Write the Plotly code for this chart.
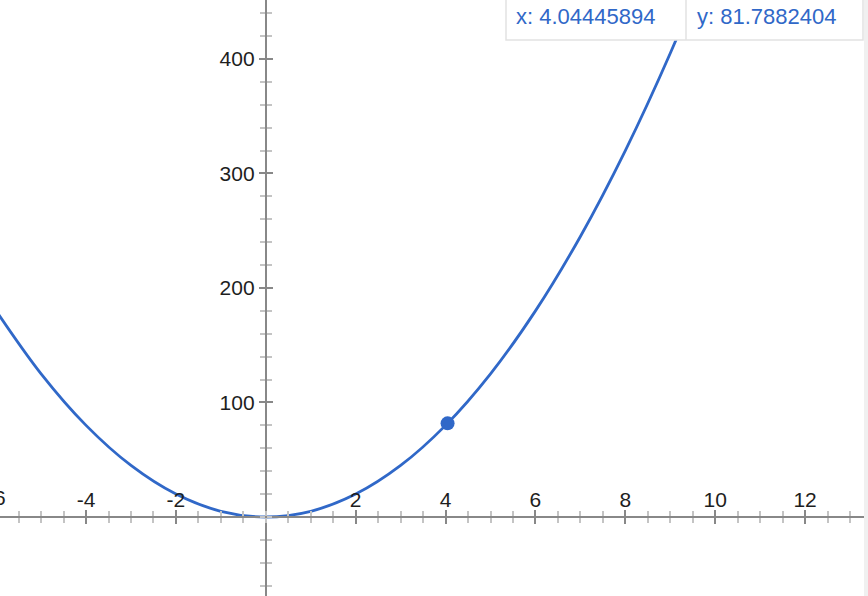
import plotly.graph_objects as go

# ---- data ----
curve_x = [-6, -5, -4, -3, -2, -1, 0, 1, 2, 3, 4, 5, 6, 7, 8, 9, 10]
curve_y = [180, 125, 80, 45, 20, 5, 0, 5, 20, 45, 80, 125, 180, 245, 320, 405, 500]
point_x = [4.04445894]
point_y = [81.7882404]
x_ticks = [-4, -2, 2, 4, 6, 8, 10, 12]
x_tick_labels = ["-4", "-2", "2", "4", "6", "8", "10", "12"]
x_edge_tick = -6
x_edge_label = "-6"
y_ticks = [100, 200, 300, 400]
y_tick_labels = ["100", "200", "300", "400"]
x_range = [-5.915, 13.40]
y_range = [-69.0, 451.5]

W, H = 868, 596
BLUE = "#3068c8"
AXIS = "#888888"
MINOR = "#c4c4c4"
TXT = "#1e1e1e"
FONT = "Liberation Sans, Arial, Helvetica, sans-serif"
FS = 21

# paper positions of the zero lines, from the ranges
x_axis_pos = (0 - y_range[0]) / (y_range[1] - y_range[0])
y_axis_pos = (0 - x_range[0]) / (x_range[1] - x_range[0])

fig = go.Figure()
fig.add_trace(go.Scatter(x=curve_x, y=curve_y, mode="lines",
                         line=dict(color=BLUE, width=2.8, shape="spline", smoothing=1.0),
                         hoverinfo="skip", showlegend=False))
fig.add_trace(go.Scatter(x=point_x, y=point_y, mode="markers",
                         marker=dict(color=BLUE, size=14),
                         hoverinfo="skip", showlegend=False))
# invisible trace to activate overlay axes
fig.add_trace(go.Scatter(x=[None], y=[None], xaxis="x2", yaxis="y2", showlegend=False))

common_x = dict(range=x_range, showgrid=False, zeroline=False, tickmode="array",
                tickvals=x_ticks, ticktext=x_tick_labels, ticklen=6, tickwidth=2,
                tickcolor=AXIS, anchor="free", position=x_axis_pos,
                minor=dict(dtick=0.5, tick0=0, ticks="outside", ticklen=5,
                           tickwidth=1.5, tickcolor=MINOR, showgrid=False))
common_y = dict(range=y_range, showgrid=False, zeroline=False, tickmode="array",
                tickvals=y_ticks, ticktext=y_tick_labels, ticklen=6, tickwidth=2,
                tickcolor=AXIS, anchor="free", position=y_axis_pos,
                minor=dict(dtick=20, tick0=0, ticks="outside", ticklen=5,
                           tickwidth=1.5, tickcolor=MINOR, showgrid=False))

fig.update_layout(
    width=W, height=H, autosize=False,
    margin=dict(l=0, r=0, t=0, b=0, pad=0),
    paper_bgcolor="white", plot_bgcolor="white",
    font=dict(family=FONT, size=FS, color=TXT),
    xaxis=dict(**common_x, side="top", ticks="outside", showline=True,
               linecolor=AXIS, linewidth=2, showticklabels=True, ticklabelstandoff=-5,
               tickfont=dict(family=FONT, size=FS, color=TXT)),
    xaxis2=dict(**common_x, side="bottom", ticks="outside", overlaying="x",
                showline=False, showticklabels=False),
    yaxis=dict(**common_y, side="left", ticks="outside", showline=True,
               linecolor=AXIS, linewidth=2, showticklabels=True,
               tickfont=dict(family=FONT, size=FS, color=TXT)),
    yaxis2=dict(**common_y, side="right", ticks="outside", overlaying="y",
                showline=False, showticklabels=False),
)

# the -6 label, cut by the left edge as in the reference
fig.add_annotation(xref="paper", yref="paper",
                   x=(x_edge_tick - x_range[0]) / (x_range[1] - x_range[0]),
                   y=x_axis_pos, yshift=6, xanchor="center", yanchor="bottom",
                   showarrow=False, text=x_edge_label,
                   font=dict(family=FONT, size=FS, color=TXT))

# value readout box in the top-right corner
bx0, bx1, bdiv, by1 = 506 / W, 863 / W, 686 / W, 1 - 40 / H
fig.add_shape(type="rect", xref="paper", yref="paper", x0=bx0, x1=bx1, y0=by1, y1=1.01,
              line=dict(color="#e2e2e2", width=1.5), fillcolor="white", layer="above")
fig.add_shape(type="line", xref="paper", yref="paper", x0=bdiv, x1=bdiv, y0=by1, y1=1.01,
              line=dict(color="#e2e2e2", width=1.5), layer="above")
fig.add_annotation(xref="paper", yref="paper", x=514 / W, y=1 - 17 / H,
                   xanchor="left", yanchor="middle", showarrow=False,
                   text=f"x: {point_x[0]:.8f}", font=dict(family=FONT, size=22, color=BLUE))
fig.add_annotation(xref="paper", yref="paper", x=695 / W, y=1 - 17 / H,
                   xanchor="left", yanchor="middle", showarrow=False,
                   text=f"y: {point_y[0]:.7f}", font=dict(family=FONT, size=22, color=BLUE))

# faint screenshot edge shading
fig.add_shape(type="rect", xref="paper", yref="paper", x0=864 / W, x1=1, y0=0, y1=1,
              line=dict(width=0), fillcolor="#f0f0f0", layer="above")

fig.write_html("out.html", post_script="document.body.style.margin='0';",
               config={"displayModeBar": False})
